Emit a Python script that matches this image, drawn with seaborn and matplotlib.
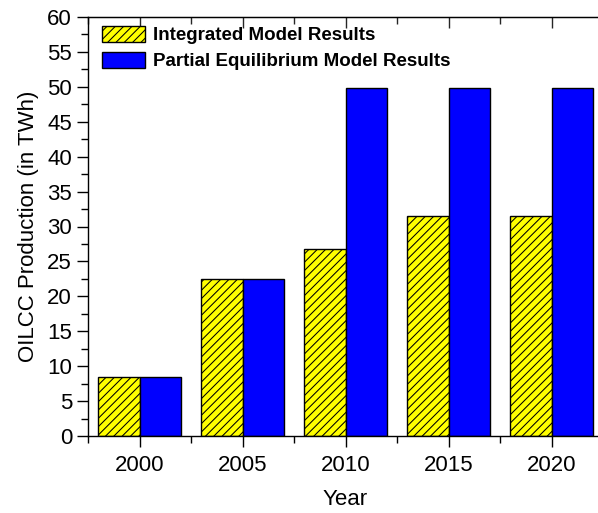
import numpy as np
import pandas as pd
import seaborn as sns
import matplotlib.pyplot as plt

# Données
annees = ['2000', '2005', '2010', '2015', '2020']
integre = [8.4, 22.5, 26.8, 31.5, 31.5]
equilibre_partiel = [8.5, 22.5, 49.8, 49.8, 49.8]
series = ['Integrated Model Results', 'Partial Equilibrium Model Results']
couleurs = ['#FFFF00', '#0000FF']

donnees = pd.DataFrame({
    'Year': annees * 2,
    'Valeur': integre + equilibre_partiel,
    'Serie': [series[0]] * len(annees) + [series[1]] * len(annees),
})

sns.set_style('ticks')
plt.rcParams['font.family'] = ['Liberation Sans', 'DejaVu Sans']
plt.rcParams['hatch.linewidth'] = 0.75
plt.rcParams['text.color'] = 'black'
plt.rcParams['axes.labelcolor'] = 'black'

fig = plt.figure(figsize=(5.98, 5.13), dpi=100)
ax = fig.add_axes([88 / 598, 1 - 436 / 513, 515 / 598, 419 / 513])

sns.barplot(data=donnees, x='Year', y='Valeur', hue='Serie', hue_order=series,
            palette=couleurs, saturation=1, edgecolor='black', linewidth=1.0,
            width=0.8, ax=ax)

# Hachures sur la première série
for barre in ax.containers[0]:
    barre.set_hatch('////')

ax.set_xlim(-0.5, 4.5)
ax.set_ylim(0, 60)
ax.set_yticks(np.arange(0, 61, 5))
ax.set_yticks(np.arange(0, 60, 2.5), minor=True)
ax.set_xticks(range(len(annees)))
ax.set_xticklabels(annees)
ax.set_xticks(np.arange(-0.5, 5, 1), minor=True)

ax.tick_params(axis='both', which='major', direction='out', length=8, width=1.0,
               labelsize=16, colors='black')
ax.tick_params(axis='both', which='minor', direction='out', length=5, width=1.0,
               colors='black')
ax.tick_params(axis='x', pad=6)

for cote in ['left', 'bottom', 'top', 'right']:
    ax.spines[cote].set_linewidth(1.0)
    ax.spines[cote].set_color('black')

# Axe du haut : graduations vers l'intérieur
haut = ax.secondary_xaxis('top')
haut.set_xticks(range(len(annees)))
haut.set_xticks(np.arange(-0.5, 5, 1), minor=True)
haut.tick_params(which='major', direction='in', length=8, width=1.0, labeltop=False)
haut.tick_params(which='minor', direction='in', length=5, width=1.0)

ax.set_xlabel('Year', fontsize=16, labelpad=9)
ax.set_ylabel('OILCC Production (in TWh)', fontsize=16, labelpad=6)

ax.legend(ax.containers, series, loc='upper left', bbox_to_anchor=(0.027, 0.978),
          frameon=False, borderpad=0, borderaxespad=0, handlelength=2.3,
          handleheight=0.9, handletextpad=0.4, labelspacing=0.4,
          prop={'size': 13.5, 'weight': 'bold'})

fig.savefig('out.png', dpi=100)
